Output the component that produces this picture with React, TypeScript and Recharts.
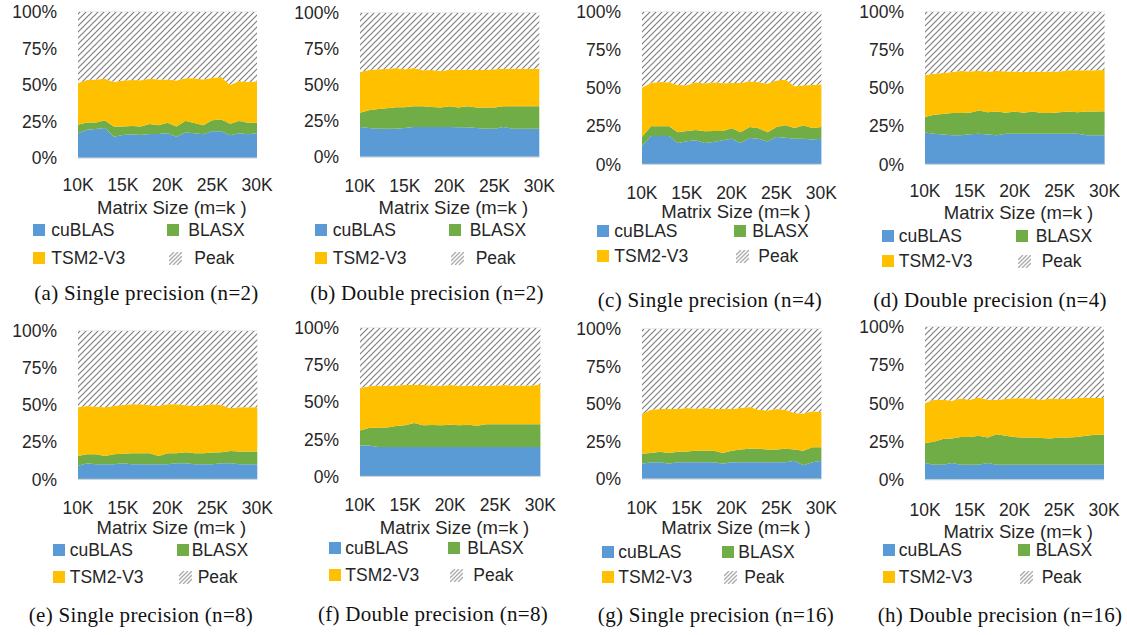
import React from "react";
import { AreaChart, Area, XAxis, YAxis, CartesianGrid } from "recharts";

// matrix sizes (m=k), in thousands
const SIZES = [10, 11, 12, 13, 14, 15, 16, 17, 18, 19, 20, 21, 22, 23, 24, 25, 26, 27, 28, 29, 30];
const X_TICKS = [10, 15, 20, 25, 30];
const Y_TICKS = [0, 25, 50, 75, 100];

// share of peak performance (%) per library, one panel per block
const A_CUBLAS = [17, 19.4, 19.9, 20.5, 14.6, 15.8, 16.2, 15.8, 16.4, 16.4, 17, 14.6, 17.4, 17, 16.2, 18.3, 18.3, 15.5, 17, 16.2, 17];
const A_BLASX = [5.8, 5, 4.5, 5.1, 6.9, 5.7, 5.7, 5.7, 6.9, 6, 7.2, 6.9, 7.9, 7, 6.2, 7.5, 8, 8, 8.3, 8, 7.2];
const A_TSM2 = [28.6, 29, 29.3, 28.7, 30.6, 31.5, 31.5, 31.7, 31, 31.3, 29.5, 31.5, 29.3, 30.6, 31.3, 29.2, 29.2, 26.5, 27.4, 27.9, 28.3];

const B_CUBLAS = [20.8, 20.1, 19.7, 19.7, 19.7, 20.1, 20.8, 20.8, 20.8, 20.8, 20.8, 20.6, 20.6, 20.1, 19.7, 19.7, 20.8, 19.7, 19.7, 19.7, 19.7];
const B_BLASX = [10, 12.3, 13.6, 14.1, 14.8, 14.4, 14.4, 14.4, 13.9, 13.5, 14.4, 13.7, 14.6, 14.2, 14.6, 14.6, 14.4, 15.5, 15.5, 15.5, 15.5];
const B_TSM2 = [28.2, 28, 27.6, 27.3, 27.3, 26.4, 26.6, 25, 25.7, 25.4, 25.4, 26.3, 25.4, 26.1, 26.1, 26.6, 26.1, 26.1, 26.1, 26.1, 26.1];

const C_CUBLAS = [12, 18.6, 18.6, 18.6, 14, 15.1, 15.8, 14, 14.7, 15.8, 16.8, 14, 17.3, 16.8, 14.9, 17.9, 17.5, 16.8, 16.8, 16.2, 16.8];
const C_BLASX = [5.9, 6.3, 6.3, 6.3, 7, 6.8, 6.7, 7.7, 7.2, 6.1, 6.8, 7, 7.2, 6.8, 6.1, 6.6, 8.1, 7.1, 8.6, 7.7, 7.7];
const C_TSM2 = [32.4, 28.7, 29.1, 28.9, 31.1, 30, 31.3, 31.3, 31.9, 31.3, 29.8, 32.4, 30, 30.2, 32, 30.6, 30, 27.3, 26.5, 28.2, 28];

const D_CUBLAS = [20.8, 20.1, 19.5, 19, 19, 19.7, 20.1, 19.5, 19, 20.1, 20.1, 20.1, 20.1, 20.1, 20.1, 20.1, 20.1, 20.1, 19, 19, 19];
const D_BLASX = [10.3, 12.5, 13.5, 14.7, 14.7, 14.2, 15.3, 14.6, 15.6, 13.8, 14.5, 13.8, 14.5, 13.6, 13.6, 14, 14.5, 14, 15.6, 15.6, 15.8];
const D_TSM2 = [27.5, 26.9, 27, 26.9, 27.6, 27.1, 26.1, 26.7, 26.9, 27.1, 26.4, 26.7, 26.4, 27.1, 27.3, 26.9, 27.1, 27.6, 27.1, 27.1, 27.1];

const E_CUBLAS = [9, 10.8, 10.1, 10.1, 10.1, 10.8, 10.1, 10.1, 10.1, 10.1, 10.1, 10.8, 10.8, 10.1, 10.1, 10.1, 10.8, 10.8, 10.1, 10.1, 10.1];
const E_BLASX = [6.7, 6.1, 6.8, 5.6, 6.8, 6.5, 7.4, 7.4, 7.4, 5.6, 7.4, 6.7, 7.4, 7.4, 7.4, 7.9, 7.4, 8.3, 8.6, 8.6, 8.6];
const E_TSM2 = [32.8, 32.5, 32.1, 32.8, 32.5, 32.8, 33.1, 33.1, 32.4, 33.7, 33.1, 33.1, 31.7, 31.9, 32.4, 32.6, 31.9, 28.8, 29.8, 29.8, 29.8];

const F_CUBLAS = [20.9, 20.9, 19.8, 19.8, 19.8, 19.8, 19.8, 19.8, 19.8, 19.8, 19.8, 19.8, 19.8, 19.8, 19.8, 19.8, 19.8, 19.8, 19.8, 19.8, 19.8];
const F_BLASX = [10.1, 11.7, 13.2, 13.2, 14.1, 14.6, 16.2, 14.6, 14.8, 14.6, 15, 14.6, 15, 14.4, 15.3, 15.3, 15.3, 15.3, 15.3, 15.3, 15.3];
const F_TSM2 = [28.6, 28.1, 28.1, 28.1, 27.4, 27.2, 25.6, 27.2, 26.7, 26.7, 26.8, 26.7, 26.3, 26.9, 26, 26, 26.5, 26, 26.2, 26.2, 26.7];

const G_CUBLAS = [10.2, 11.1, 11.1, 10.2, 11.1, 11.1, 11.1, 11.1, 11.1, 10.2, 11.1, 11.1, 11.1, 11.1, 11.1, 11.1, 11.1, 12.2, 9.1, 11.1, 12.2];
const G_BLASX = [6.7, 6.2, 7.1, 7.1, 7.1, 7.3, 7.8, 7.8, 7.8, 7.1, 7.8, 8.5, 9.1, 9.1, 8.5, 8.5, 9.1, 7.4, 9.8, 10, 8.9];
const G_TSM2 = [26.4, 28.9, 28.5, 29.4, 28.5, 28.9, 28, 28.4, 27.8, 29.4, 27.8, 27.7, 27.8, 26, 26, 27.1, 26, 24.4, 24.7, 24, 23.6];

const H_CUBLAS = [10.9, 9.8, 9.8, 10.9, 9.8, 9.8, 9.8, 10.9, 9.8, 9.8, 9.8, 9.8, 9.8, 9.8, 9.8, 9.8, 9.8, 9.8, 9.8, 9.8, 9.8];
const H_BLASX = [13.1, 15.1, 16.8, 16, 18.1, 18.1, 19, 16.8, 19.9, 19, 18.1, 17.9, 17.9, 17.5, 17.1, 17.9, 17.9, 18.1, 19, 19.7, 19.7];
const H_TSM2 = [26.2, 27.5, 25.8, 24.8, 25.2, 24.5, 25.1, 24.7, 22.7, 24, 25.4, 25.6, 25.4, 25.1, 26.2, 25.1, 25.1, 25.6, 25.1, 24, 24];

const SANS = "'Liberation Sans', Arial, sans-serif";
const SERIF = "'Liberation Serif', 'Times New Roman', serif";
const TEXT = "#262626";
const BLUE = "#5B9BD5";
const GREEN = "#70AD47";
const YELLOW = "#FFC000";

type Layout = {
  x: number; y: number; w: number; h: number;
  tickY: number; titleY: number; rows: number[]; legX: number[];
  capX: number; capY: number;
};

const PANELS: { id: string; caption: string; cublas: number[]; blasx: number[]; tsm2: number[]; l: Layout }[] = [
  { id: "a", caption: "(a) Single precision (n=2)", cublas: A_CUBLAS, blasx: A_BLASX, tsm2: A_TSM2,
    l: { x: 78.3, y: 12.3, w: 179, h: 146, tickY: 185, titleY: 208, rows: [230, 258], legX: [-45, -27, 89, 110], capX: 146.5, capY: 293 } },
  { id: "b", caption: "(b) Double precision (n=2)", cublas: B_CUBLAS, blasx: B_BLASX, tsm2: B_TSM2,
    l: { x: 359.7, y: 12.7, w: 179.3, h: 144, tickY: 185, titleY: 208, rows: [230, 258], legX: [-45, -27, 89, 110], capX: 427, capY: 293 } },
  { id: "c", caption: "(c) Single precision (n=4)", cublas: C_CUBLAS, blasx: C_BLASX, tsm2: C_TSM2,
    l: { x: 642.3, y: 11.7, w: 179.4, h: 152.3, tickY: 192, titleY: 212, rows: [231, 256], legX: [-45, -28, 92, 110], capX: 710, capY: 300 } },
  { id: "d", caption: "(d) Double precision (n=4)", cublas: D_CUBLAS, blasx: D_BLASX, tsm2: D_TSM2,
    l: { x: 924.7, y: 11.7, w: 179.6, h: 152.3, tickY: 190, titleY: 213, rows: [236, 261], legX: [-43, -26, 91, 111], capX: 990, capY: 300 } },
  { id: "e", caption: "(e) Single precision (n=8)", cublas: E_CUBLAS, blasx: E_BLASX, tsm2: E_TSM2,
    l: { x: 77.7, y: 331, w: 179.3, h: 148.3, tickY: 508, titleY: 528, rows: [550, 577], legX: [-25, -8, 99, 114], capX: 141, capY: 615 } },
  { id: "f", caption: "(f) Double precision (n=8)", cublas: F_CUBLAS, blasx: F_BLASX, tsm2: F_TSM2,
    l: { x: 360.3, y: 328.3, w: 180.4, h: 148.4, tickY: 505, titleY: 528, rows: [548, 575], legX: [-31, -15, 88, 107], capX: 433, capY: 614 } },
  { id: "g", caption: "(g) Single precision (n=16)", cublas: G_CUBLAS, blasx: G_BLASX, tsm2: G_TSM2,
    l: { x: 642.3, y: 329.3, w: 179.4, h: 150, tickY: 508, titleY: 528, rows: [552, 577], legX: [-40, -24, 80, 96], capX: 716, capY: 615 } },
  { id: "h", caption: "(h) Double precision (n=16)", cublas: H_CUBLAS, blasx: H_BLASX, tsm2: H_TSM2,
    l: { x: 924.7, y: 327.3, w: 179, h: 152.7, tickY: 510, titleY: 532, rows: [550, 577], legX: [-42, -26, 93, 111], capX: 1000, capY: 615 } },
];

const FS = 17.5;
const ML = 80;
const MT = 14;
const MR = 26;
const AXH = 60;

function Swatch({ left, top, color, hatch }: { left: number; top: number; color?: string; hatch?: boolean }) {
  if (hatch) {
    return (
      <svg style={{ position: "absolute", left, top }} width={13} height={13}>
        <path d="M0,5 L5,0 M0,9 L9,0 M0,13 L13,0 M4,13 L13,4 M8,13 L13,8" stroke="#aaaaaa" strokeWidth={1.3} />
      </svg>
    );
  }
  return <div style={{ position: "absolute", left, top, width: 12, height: 12, background: color }} />;
}

function Label({ left, y, text }: { left: number; y: number; text: string }) {
  return (
    <div style={{ position: "absolute", left, top: y - 12, height: 24, lineHeight: "24px", fontSize: FS, fontFamily: SANS, color: TEXT, whiteSpace: "pre" }}>
      {text}
    </div>
  );
}

function Panel({ p }: { p: (typeof PANELS)[number] }) {
  const l = p.l;
  const data = SIZES.map((s, i) => ({
    size: s,
    cublas: p.cublas[i],
    blasx: p.blasx[i],
    tsm2: p.tsm2[i],
    peak: +(100 - p.cublas[i] - p.blasx[i] - p.tsm2[i]).toFixed(1),
  }));
  const hatchId = `hatch-${p.id}`;
  const tickStyle = { fontSize: FS, fill: TEXT, fontFamily: SANS };
  const cx = l.x + l.w / 2;
  const [r1, r2] = l.rows;
  const [s1, t1, s2, t2] = l.legX;

  return (
    <>
      <div style={{ position: "absolute", left: l.x - ML, top: l.y - MT }}>
        <AreaChart
          width={ML + l.w + MR}
          height={MT + l.h + AXH}
          data={data}
          margin={{ top: MT, right: MR, left: 0, bottom: 0 }}
        >
          <defs>
            <pattern id={hatchId} patternUnits="userSpaceOnUse" width={6} height={6}>
              <rect width={6} height={6} fill="#ffffff" />
              <path d="M-1,1 L1,-1 M0,6 L6,0 M5,7 L7,5" stroke="#808080" strokeWidth={1.2} />
            </pattern>
          </defs>
          <CartesianGrid vertical={false} stroke="#d9d9d9" />
          <XAxis
            type="number"
            dataKey="size"
            domain={[10, 30]}
            ticks={X_TICKS}
            interval={0}
            tickFormatter={(v: number) => `${v}K`}
            height={AXH}
            tickSize={0}
            tickMargin={l.tickY - (l.y + l.h) - 6.2}
            tickLine={false}
            axisLine={{ stroke: "#d9d9d9" }}
            tick={tickStyle}
          />
          <YAxis
            width={ML}
            domain={[0, 100]}
            ticks={Y_TICKS}
            interval={0}
            tickFormatter={(v: number) => `${v}%`}
            tickSize={0}
            tickMargin={21}
            axisLine={false}
            tickLine={false}
            tick={tickStyle}
          />
          <Area type="linear" dataKey="cublas" stackId="1" stroke="none" fill={BLUE} fillOpacity={1} isAnimationActive={false} />
          <Area type="linear" dataKey="blasx" stackId="1" stroke="none" fill={GREEN} fillOpacity={1} isAnimationActive={false} />
          <Area type="linear" dataKey="tsm2" stackId="1" stroke="none" fill={YELLOW} fillOpacity={1} isAnimationActive={false} />
          <Area type="linear" dataKey="peak" stackId="1" stroke="none" fill={`url(#${hatchId})`} fillOpacity={1} isAnimationActive={false} />
        </AreaChart>
      </div>

      <div style={{ position: "absolute", left: cx + 4 - 100, width: 200, top: l.titleY - 12, height: 24, lineHeight: "24px", textAlign: "center", fontSize: 18.5, fontFamily: SANS, color: TEXT, whiteSpace: "pre" }}>
        Matrix Size (m=k )
      </div>

      <Swatch left={l.x + s1} top={r1 - 6} color={BLUE} />
      <Label left={l.x + t1} y={r1} text="cuBLAS" />
      <Swatch left={l.x + s2} top={r1 - 6} color={GREEN} />
      <Label left={l.x + t2} y={r1} text="BLASX" />
      <Swatch left={l.x + s1} top={r2 - 6} color={YELLOW} />
      <Label left={l.x + t1} y={r2} text="TSM2-V3" />
      <Swatch left={l.x + s2 + 2} top={r2 - 6} hatch />
      <Label left={l.x + t2 + 6} y={r2} text="Peak" />

      <div style={{ position: "absolute", left: l.capX - 130, width: 260, top: l.capY - 14, height: 28, lineHeight: "28px", textAlign: "center", fontSize: 21, letterSpacing: 0.3, fontFamily: SERIF, color: "#111", whiteSpace: "pre" }}>
        {p.caption}
      </div>
    </>
  );
}

export default function App() {
  return (
    <div style={{ position: "absolute", left: 0, top: 0, width: 1127, height: 635, background: "#ffffff", overflow: "hidden" }}>
      {PANELS.map((p) => (
        <Panel key={p.id} p={p} />
      ))}
    </div>
  );
}
